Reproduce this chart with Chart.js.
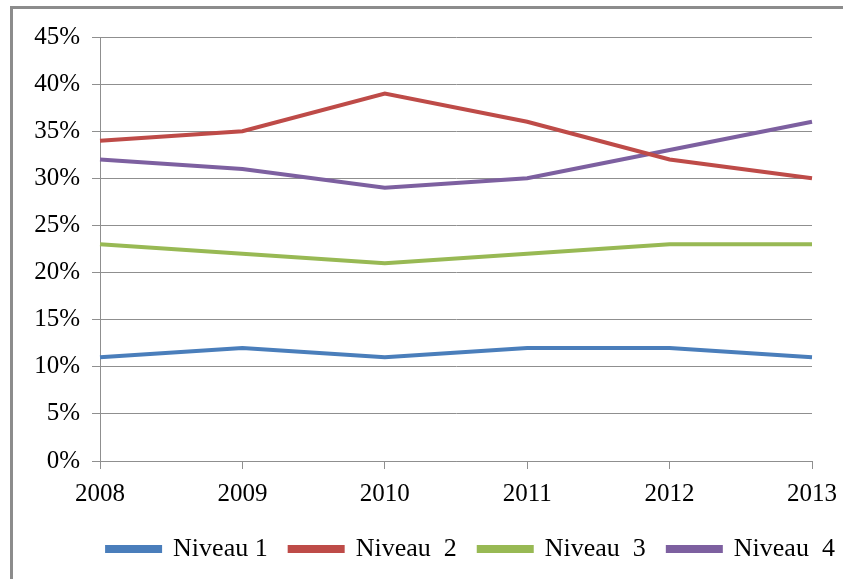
<!DOCTYPE html>
<html>
<head>
<meta charset="utf-8">
<script src="https://cdn.jsdelivr.net/npm/chart.js@4/dist/chart.umd.min.js"></script>
<style>
    html, body { margin: 0; padding: 0; background: #fff; }
    #wrap { position: relative; width: 853px; height: 579px; overflow: hidden; }
    #frame {
        position: absolute; left: 10px; top: 6px; width: 833px; height: 600px;
        border-top: 3px solid #8c8c8c; border-left: 3px solid #8c8c8c;
        box-sizing: border-box;
    }
    #chart { position: absolute; left: 0; top: 0; }
</style>
</head>
<body>
<div id="wrap">
    <div id="frame"></div>
    <canvas id="chart" width="853" height="579"></canvas>
</div>
<script>
// Data
const years = ['2008', '2009', '2010', '2011', '2012', '2013'];
const niveau1 = [11, 12, 11, 12, 12, 11];
const niveau2 = [34, 35, 39, 36, 32, 30];
const niveau3 = [23, 22, 21, 22, 23, 23];
const niveau4 = [32, 31, 29, 30, 33, 36];
const seriesLabels = ['Niveau 1', 'Niveau  2', 'Niveau  3', 'Niveau  4'];
const seriesColors = ['#4a7ebb', '#be4b48', '#98b954', '#7d60a0'];

const family = '"Liberation Serif", "Times New Roman", serif';
const tickFont = { family: family, size: 25 };
const legendFont = { family: family, size: 26 };
const gridColor = '#8f8f8f';

function makeSet(i, data) {
    return {
        label: seriesLabels[i],
        data: data,
        borderColor: seriesColors[i],
        backgroundColor: seriesColors[i],
        borderWidth: 4,
        pointRadius: 0,
        tension: 0
    };
}

// legend in the original sits a bit right of the canvas centre
const shiftLegend = {
    id: 'shiftLegend',
    afterLayout(chart) {
        const dx = 65;
        chart.legend.left += dx;
        chart.legend.right += dx;
    }
};

const ctx = document.getElementById('chart').getContext('2d');
new Chart(ctx, {
    type: 'line',
    data: {
        labels: years,
        datasets: [
            makeSet(0, niveau1),
            makeSet(1, niveau2),
            makeSet(2, niveau3),
            makeSet(3, niveau4)
        ]
    },
    options: {
        responsive: false,
        animation: false,
        layout: { padding: { left: 0, right: 41, top: 37, bottom: 7 } },
        scales: {
            x: {
                offset: false,
                grid: { drawOnChartArea: false, drawTicks: true, tickLength: 8, color: gridColor },
                border: { color: gridColor, width: 1 },
                ticks: { color: '#000', font: tickFont, padding: 10, maxRotation: 0 },
                afterFit: s => { s.height = 53; }
            },
            y: {
                min: 0,
                max: 45,
                grid: { color: gridColor, tickLength: 8 },
                border: { color: gridColor, width: 1 },
                ticks: {
                    stepSize: 5,
                    color: '#000',
                    font: tickFont,
                    padding: 12,
                    callback: v => v + '%'
                },
                afterFit: s => { s.width = 100; }
            }
        },
        plugins: {
            legend: {
                position: 'bottom',
                labels: {
                    color: '#000',
                    font: legendFont,
                    boxWidth: 53,
                    boxHeight: 4,
                    padding: 22
                }
            },
            tooltip: { enabled: false }
        }
    },
    plugins: [shiftLegend]
});
</script>
</body>
</html>
